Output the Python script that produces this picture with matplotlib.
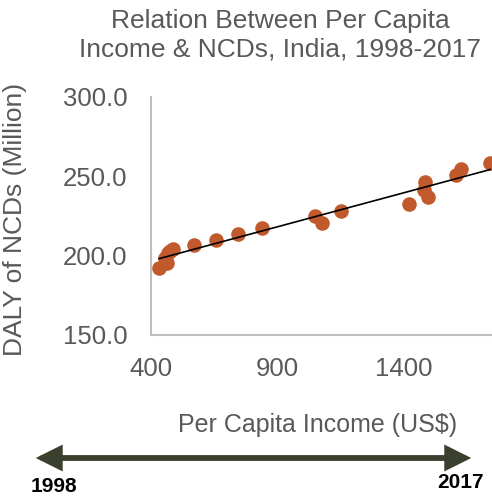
import numpy as np
import matplotlib
matplotlib.use("Agg")
import matplotlib.pyplot as plt

# per capita income (US$) and DALY of NCDs (million), 1998-2017
income = [432, 455, 463, 467, 475, 487, 570, 657, 744, 839,
          1048, 1076, 1151, 1420, 1479, 1483, 1495, 1606, 1625, 1740]
daly = [192.2, 198.5, 195.4, 201.7, 202.9, 204.2, 206.7, 209.9, 213.6, 217.4,
        225.0, 220.6, 228.1, 232.5, 241.4, 246.4, 236.9, 250.8, 254.6, 258.4]
x_ticks = [400, 900, 1400]
y_ticks = [150, 200, 250, 300]
start_year, end_year = "1998", "2017"

W, H = 492, 497
plt.rcParams['font.family'] = ['Liberation Sans', 'DejaVu Sans']
fig = plt.figure(figsize=(W / 100, H / 100), dpi=100)
ax = fig.add_axes([151 / W, 1 - 335 / H, (491 - 151) / W, (335 - 97) / H])

grey = '#595959'
ax.scatter(income, daly, s=110, color='#C0592B', zorder=3, linewidths=0)

# linear trendline
k, b = np.polyfit(income, daly, 1)
xs = np.array([min(income), 1760])
ax.plot(xs, k * xs + b, color='black', lw=1.2, zorder=4)

ax.set_xlim(400, 1745)
ax.set_ylim(150, 300)
ax.set_xticks(x_ticks)
ax.set_yticks(y_ticks)
ax.set_yticklabels([f"{v:.1f}" for v in y_ticks])
ax.tick_params(length=0, labelsize=18.5, colors=grey, pad=0)
ax.tick_params(axis='y', pad=17)
ax.tick_params(axis='x', pad=16)
for s in ['top', 'right']:
    ax.spines[s].set_visible(False)
for s in ['left', 'bottom']:
    ax.spines[s].set_color('#BFBFBF')
    ax.spines[s].set_linewidth(1.5)

ax.set_ylabel('DALY of NCDs (Million)', fontsize=19, color=grey)
ax.yaxis.set_label_coords((27 - 151) / (491 - 151), (335 - 219) / (335 - 97))
ax.set_xlabel('Per Capita Income (US$)', fontsize=18, color=grey)
ax.xaxis.set_label_coords((318 - 151) / (491 - 151), -(413 - 335) / (335 - 97))

fig.text(79 / W, 1 - 35 / H,
         'Relation Between Per Capita\nIncome & NCDs, India, 1998-2017',
         ha='left', va='center', multialignment='center',
         fontsize=19, color=grey, linespacing=1.25)

# timeline arrow
fig.patches.append(matplotlib.patches.FancyArrowPatch(
    (33 / W, 1 - 458 / H), (474 / W, 1 - 458 / H), transform=fig.transFigure,
    arrowstyle='<|-|>,head_length=0.9,head_width=0.45', mutation_scale=14,
    color='#3A3F2E', lw=4.2, joinstyle='miter'))
fig.text(54 / W, 1 - 487 / H, start_year, ha='center', va='center',
         fontsize=15, fontweight='bold', color='black')
fig.text(461 / W, 1 - 483 / H, end_year, ha='center', va='center',
         fontsize=15, fontweight='bold', color='black')

fig.savefig('out.png', dpi=100)
